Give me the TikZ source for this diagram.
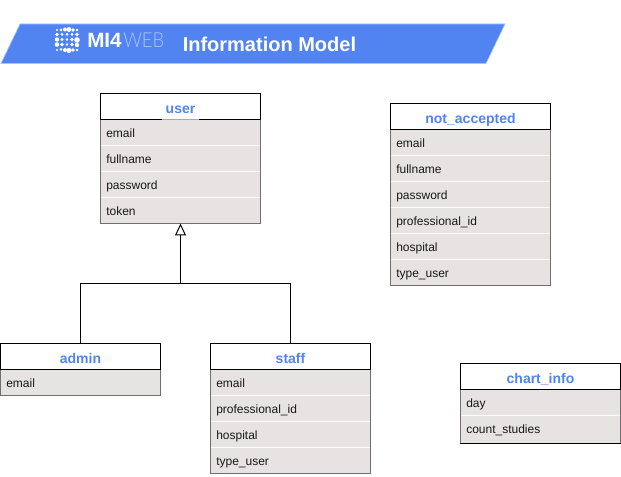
\documentclass[tikz,border=0pt]{standalone}
\usepackage{fontspec}
\setmainfont{Liberation Sans}
\newfontfamily\logofont[FakeStretch=0.89]{Lato Light}
\usetikzlibrary{arrows.meta}
\definecolor{bannerblue}{HTML}{5184F1}
\definecolor{bannerlight}{HTML}{A8C3F7}
\definecolor{rowfill}{HTML}{E6E3E2}
\definecolor{rowedge}{HTML}{6F6F6F}
\tikzset{
  x=0.75pt,y=-0.75pt,
  headbox/.style={fill=white,minimum width=120pt,minimum height=19.5pt,inner sep=0pt,outer sep=0pt,anchor=north west},
  headtext/.style={text=bannerblue,font=\fontsize{10.5}{12}\selectfont\bfseries,anchor=base,inner xsep=2.25pt,inner ysep=0pt},
  rowtext/.style={font=\fontsize{9}{11}\selectfont,text=black!90,anchor=base west,inner sep=0pt},
  tableedge/.style={draw=rowedge,line width=0.75pt},
  rowsep/.style={draw=white!85!rowfill,line width=0.5pt},
  labelgap/.style={draw=rowedge!60!white,line width=0.75pt},
  connector/.style={draw=black,line width=0.75pt},
}
% #1 name, #2 x, #3 y, #4 title, #5 rows (index/text), #6 number of rows
\newcommand{\umltable}[6]{%
  \node[headbox] (#1) at (#2,#3) {};
  \node[headtext] (#1-title) at (#2+80,#3+19.7) {#4};
  \path[fill=rowfill] (#2,#3+26) rectangle (#2+160,#3+26+26*#6);
  \foreach \i/\t in {#5} {%
    \node[rowtext] (#1-\i) at (#2+5.5,#3+17.8+26*\i) {\t};
    \ifnum\i<#6\relax
      \draw[rowsep] (#2,#3+26+26*\i) -- (#2+160,#3+26+26*\i);
    \fi
  }
  \draw[tableedge] (#2,#3+26) -- (#2,#3+26+26*#6) -- (#2+160,#3+26+26*#6) -- (#2+160,#3+26) -- cycle;
  \draw[connector] (#2,#3) rectangle (#2+160,#3+26);
}
\begin{document}
\begin{tikzpicture}
\useasboundingbox (0,0) rectangle (621,477);
\fill[white] (0,0) rectangle (621,477);
% banner
\path[fill=bannerblue,draw=bannerlight,line width=0.5pt] (20,24) -- (505,24) -- (486,63.5) -- (1,63.5) -- cycle;
% logo
\foreach \cx/\cy/\r in {
 57/30/1.2, 61/30/1.5, 65/29.5/2, 69/29.5/2.4, 73/30/1.8, 77/30/1.3,
 57/34.5/1.8, 62/34.5/1.5, 67/34.5/1.5, 72/34.5/1.5, 77/34.5/1.8,
 57/39.5/2.2, 62/39.5/1.7, 67/39.5/1.3, 72/39.5/1.8, 77/40/2.8,
 57/44.5/2.3, 62/44.5/1.8, 67/44.5/1.3, 72/44.5/1.8, 77/45/2.2,
 57/50/1.2, 61/49.5/1.5, 65/50/2, 69/50.5/2.6, 73/50/1.8, 77/50/1.3}
 {\fill[white] (\cx,\cy) circle[radius=\r*0.75pt];}
\node[anchor=west,inner sep=0pt,text=white,font=\fontsize{15.5}{18}\selectfont\bfseries] (logoa) at (87,40.5) {MI4};
\node[anchor=west,inner sep=0pt,text=white!50!bannerblue,font=\logofont\fontsize{15.5}{18}\selectfont] (logob) at (123,40.5) {WEB};
\node[anchor=west,inner sep=0pt,text=white,font=\fontsize{15}{18}\selectfont\bfseries] (bannertitle) at (182.5,44) {Information Model};
% tables
\umltable{user}{100.5}{93.5}{user}{1/email,2/fullname,3/password,4/token}{4}
\draw[labelgap] (user-title.west |- user.south) -- (user-title.east |- user.south);
\umltable{notaccepted}{390.5}{103.5}{not\_accepted}{1/email,2/fullname,3/password,4/professional\_id,5/hospital,6/type\_user}{6}
\umltable{admin}{0.5}{343.5}{admin}{1/email}{1}
\umltable{staff}{210.5}{343.5}{staff}{1/email,2/professional\_id,3/hospital,4/type\_user}{4}
\umltable{chartinfo}{460.5}{363.5}{chart\_info}{1/day,2/count\_studies}{2}
% chart_info closes two pixels lower, with a black bottom edge
\fill[rowfill] (461,440.8) rectangle (620,443.5);
\draw[tableedge] (460.5,441) -- (460.5,443.5) (620.5,441) -- (620.5,443.5);
\draw[connector] (460.1,443.5) -- (620.9,443.5);
% inheritance
\coordinate (userbottom) at (180.5,223.5);
\coordinate (joint) at (180.5,283.5);
\draw[connector] (admin.north) |- (joint);
\draw[connector] (staff.north) |- (joint);
\draw[connector,-{Triangle[open,fill=white,length=9pt,width=8.25pt]}] (joint) -- (userbottom);
\end{tikzpicture}
\end{document}
